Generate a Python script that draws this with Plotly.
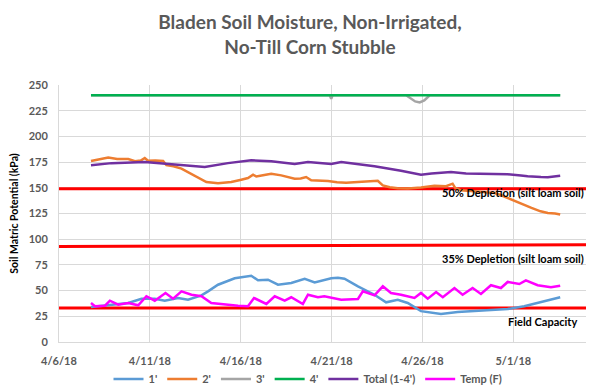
import pandas as pd
import plotly.graph_objects as go

BASE = pd.Timestamp("2018-04-06")

# time values are days elapsed since 4/6/18 00:00
d_1ft = [1.76, 2.89, 3.81, 4.54, 5.27, 5.82, 6.55, 7.1, 7.84, 8.2, 8.75, 9.67, 10.58, 10.95, 11.5,
         12.05, 12.78, 13.52, 14.07, 14.98, 15.35, 15.71, 16.45, 17.36, 18.0, 18.64, 19.19, 19.92,
         21.02, 21.94, 23.22, 24.69, 25.6, 26.52, 27.58]
v_1ft = [34, 36.3, 38, 42, 42, 40.2, 42.8, 41.1, 45.4, 49.3, 55.7, 62, 64.5, 60, 60.6,
         55.7, 57.4, 61.5, 58, 62, 62.5, 61.6, 54.2, 46, 38.6, 41.1, 38, 30,
         27.2, 29.2, 30.4, 32.1, 34.7, 38.9, 43.5]

d_2ft = [1.76, 2.2, 2.71, 3.2, 3.81, 4.18, 4.5, 4.72, 4.9, 5.3, 5.73, 5.91, 6.3, 6.74, 7.1, 7.47,
         7.8, 8.11, 8.75, 9.48, 10.03, 10.4, 10.68, 10.86, 11.3, 11.68, 12.23, 12.6, 12.97, 13.3,
         13.6, 13.88, 14.3, 14.8, 15.3, 15.8, 16.45, 17.0, 17.54, 17.82, 18.2, 18.64, 19.2, 19.92,
         20.66, 21.3, 21.66, 21.8, 22.12, 23.0, 23.96, 24.3, 24.69, 25.1, 25.6, 26.0, 26.5, 26.9,
         27.3, 27.58]
v_2ft = [176, 177.5, 179.5, 178, 178, 175.8, 176.5, 179, 176.4, 176.5, 176, 172, 171, 168.6, 165,
         161.2, 158, 155.6, 154.4, 155.6, 157.9, 159.5, 162.7, 161, 162.5, 163.7, 162.1, 160.5,
         158.9, 159, 160.5, 157.3, 157, 156.5, 155.5, 154.8, 155.6, 156, 156.9, 152.4, 150.5, 149.5,
         149.2, 150.2, 152, 151.5, 154, 150, 147.5, 146.5, 145, 143, 140, 137, 133.6, 130.5, 127.1,
         125.5, 125, 124]

d_3ft = [1.76, 14.9, 14.98, 15.06, 19.1, 19.35, 19.6, 19.85, 20.1, 20.4, 27.58]
v_3ft = [240, 240, 236.5, 240, 240, 237, 234, 233, 235, 240, 240]

d_4ft = [1.76, 27.58]
v_4ft = [240, 240]

d_total = [1.76, 2.89, 4.72, 5.82, 7.1, 8.02, 9.3, 10.58, 11.68, 12.97, 13.7, 14.98, 15.53, 16.4,
           17.36, 18.82, 19.92, 20.5, 21.57, 22.4, 23.22, 24.69, 25.42, 25.79, 26.52, 26.9, 27.58]
v_total = [172, 174, 175, 173.2, 171.5, 170.2, 174, 176.8, 175.8, 173.2, 175, 173.2, 175, 173,
           170.9, 166.6, 162.7, 164, 165.4, 164, 163.7, 163.2, 162, 161.2, 160.5, 160.3, 161.8]

d_temp = [1.76, 1.98, 2.53, 2.8, 3.26, 3.81, 4.36, 4.81, 5.27, 5.86, 6.28, 6.74, 7.29, 7.84, 8.38,
          9.12, 9.85, 10.4, 10.73, 11.41, 11.87, 12.42, 12.78, 13.42, 13.7, 14.25, 14.6, 15.53,
          16.45, 16.72, 17.36, 17.82, 18.27, 18.82, 19.56, 19.92, 20.29, 20.75, 21.12, 21.76,
          22.21, 22.76, 23.22, 23.77, 24.32, 24.69, 25.33, 25.69, 26.34, 27.07, 27.58]
v_temp = [37.9, 34.7, 35.3, 40.2, 36.3, 37.9, 35.7, 44.5, 40.2, 47.7, 42.1, 49.3, 46, 44.5, 37.9,
          36.3, 35.3, 34.7, 42.8, 37, 44.5, 40.2, 43.5, 37, 46, 43.5, 44.5, 41.1,
          41.8, 49.3, 45.4, 54.2, 47.7, 46, 42.8, 47.7, 42.1, 48.6, 43.5, 52.5,
          46, 52.5, 46.7, 55.2, 52.5, 58.4, 56.4, 60, 55.2, 53.2, 54.8]

# reference lines
d_ref = [0, 29]
v_50 = [149, 149]
v_35 = [93, 94.5]
v_fc = [33, 33]

series = [
    ("1'", d_1ft, v_1ft, "#5B9BD5"),
    ("2'", d_2ft, v_2ft, "#ED7D31"),
    ("3'", d_3ft, v_3ft, "#A5A5A5"),
    ("4'", d_4ft, v_4ft, "#00B050"),
    ("Total (1-4')", d_total, v_total, "#7030A0"),
    ("Temp (F)", d_temp, v_temp, "#FF00FF"),
]

def to_dates(days):
    return [BASE + pd.Timedelta(days=x) for x in days]

fig = go.Figure()
for vals in (v_50, v_35, v_fc):
    fig.add_trace(go.Scatter(x=to_dates(d_ref), y=vals, mode="lines",
                             line=dict(color="#FF0000", width=3), showlegend=False))
for name, d, v, c in series:
    fig.add_trace(go.Scatter(x=to_dates(d), y=v, mode="lines", name=name,
                             line=dict(color=c, width=2.5)))

font = "Lato, 'Open Sans', sans-serif"
fig.update_layout(
    width=604, height=386,
    margin=dict(l=51, r=26, t=77, b=52, autoexpand=False),
    paper_bgcolor="white", plot_bgcolor="white",
    title=dict(text="Bladen Soil Moisture, Non-Irrigated,<br>No-Till Corn Stubble",
               x=0.5, xanchor="center", xref="container",
               y=1 - 21 / 386, yanchor="middle", yref="container",
               font=dict(family=font, size=19, color="#595959", weight="bold")),
    font=dict(family=font, size=11, color="#595959"),
    legend=dict(orientation="h", xref="container", x=300 / 604, xanchor="center",
                yref="container", y=1 - 371 / 386, yanchor="middle",
                font=dict(family=font, size=11, color="#595959", weight="bold"),
                itemwidth=30, tracegroupgap=0),
    showlegend=True,
)
fig.update_xaxes(
    type="date", range=[BASE, BASE + pd.Timedelta(days=29)],
    dtick=5 * 86400000, tick0=BASE, tickformat="%-m/%-d/%y",
    showgrid=True, gridcolor="#D9D9D9", gridwidth=1,
    showline=True, linecolor="#D9D9D9", linewidth=1, zeroline=False,
    ticks="", ticklabelstandoff=9,
    tickfont=dict(family=font, size=11, color="#595959", weight="bold"),
)
fig.update_yaxes(
    range=[0, 250], dtick=25, tick0=0,
    showgrid=True, gridcolor="#D9D9D9", gridwidth=1,
    showline=True, linecolor="#D9D9D9", linewidth=1, zeroline=False,
    ticks="", ticklabelstandoff=8,
    tickfont=dict(family=font, size=11, color="#595959", weight="bold"),
    title=dict(text="Soil Matric Potential (kPa)", standoff=14,
               font=dict(family=font, size=10.5, color="#000000", weight="bold")),
)
ann_font = dict(family=font, size=11, color="#000000", weight="bold")
fig.add_annotation(text="50% Depletion (silt loam soil)", xref="paper", yref="y",
                   x=1, y=145, xanchor="right", yanchor="middle", showarrow=False, font=ann_font)
fig.add_annotation(text="35% Depletion (silt loam soil)", xref="paper", yref="y",
                   x=1, y=81, xanchor="right", yanchor="middle", showarrow=False, font=ann_font)
fig.add_annotation(text="Field Capacity", xref="paper", yref="y",
                   x=1, y=20, xanchor="right", yanchor="middle", xshift=-7,
                   showarrow=False, font=ann_font)

fig.write_html("out.html")
